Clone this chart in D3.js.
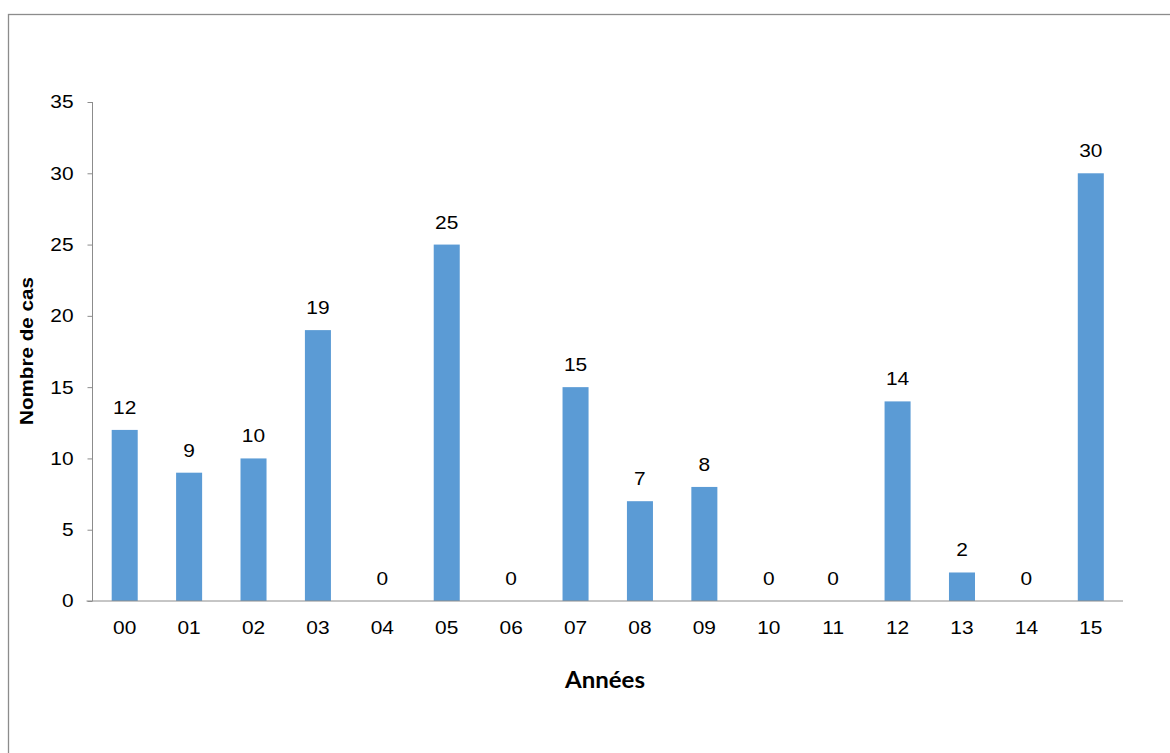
<!DOCTYPE html>
<html><head><meta charset="utf-8">
<script src="https://cdn.jsdelivr.net/npm/d3@7/dist/d3.min.js"></script>
<style>html,body{margin:0;padding:0;background:#fff;}svg{display:block;}
text{font-family:'Liberation Sans', Arial, sans-serif;}
.cal{font-family:Lato, Carlito, Calibri, sans-serif;}
</style>
</head><body>
<svg id="chart" width="1170" height="753"></svg>
<script>
const categories = ["00","01","02","03","04","05","06","07","08","09","10","11","12","13","14","15"];
const values = [12,9,10,19,0,25,0,15,7,8,0,0,14,2,0,30];
const yTicks = [0,5,10,15,20,25,30,35];

const svg = d3.select("#chart");
const m = {left: 92.5, right: 1123, top: 102, bottom: 601};
const FS = 18.5;
const STRETCH = 1.13;

svg.append("rect").attr("x", 8.5).attr("y", 14.5).attr("width", 1180).attr("height", 760)
  .attr("fill", "none").attr("stroke", "#8c8c8c").attr("stroke-width", 1.3);

const x = d3.scaleBand().domain(categories).range([m.left, m.right]).padding(0);
const y = d3.scaleLinear().domain([0, 35]).range([m.bottom, m.top]);
const barW = x.bandwidth() * 0.404;

// y axis
const yAxis = d3.axisLeft(y).tickValues(yTicks).tickSize(5).tickPadding(14);
const yg = svg.append("g").attr("transform", `translate(${m.left},0)`).call(yAxis);
yg.attr("font-family", null).attr("font-size", null);
yg.select(".domain").remove();
yg.append("line").attr("x1", 0).attr("x2", 0).attr("y1", m.top).attr("y2", m.bottom).attr("stroke", "#8c8c8c");
yg.selectAll(".tick line").attr("stroke", "#8c8c8c");
yg.selectAll(".tick text").attr("class", "lbl").style("font-size", FS + "px").attr("fill", "#000");

// bars
svg.append("g").selectAll("rect").data(categories).join("rect")
  .attr("x", (d) => x(d) + x.bandwidth()/2 - barW/2)
  .attr("y", (d, i) => y(values[i]))
  .attr("width", barW)
  .attr("height", (d, i) => y(0) - y(values[i]))
  .attr("fill", "#5b9bd5");

// x axis
const xAxis = d3.axisBottom(x).tickSize(0).tickPadding(20);
const xg = svg.append("g").attr("transform", `translate(0,${m.bottom})`).call(xAxis);
xg.attr("font-family", null).attr("font-size", null);
xg.select(".domain").remove();
xg.append("line").attr("x1", m.left - 6).attr("x2", m.right).attr("y1", 0).attr("y2", 0).attr("stroke", "#8c8c8c");
xg.selectAll(".tick text").attr("class", "lbl").style("font-size", FS + "px").attr("fill", "#000");

// data labels
svg.append("g").selectAll("text").data(categories).join("text")
  .attr("class", "lbl")
  .attr("x", (d) => x(d) + x.bandwidth()/2)
  .attr("y", (d, i) => y(values[i]) - 16)
  .attr("text-anchor", "middle")
  .style("font-size", FS + "px").attr("fill", "#000")
  .text((d, i) => values[i]);

// axis titles
const xt = svg.append("text").attr("class", "cal").attr("x", 605).attr("y", 688)
  .attr("text-anchor", "middle")
  .attr("font-weight", "bold").style("font-size", "22px").attr("fill", "#000").text("Années");
xt.attr("textLength", 80).attr("lengthAdjust", "spacingAndGlyphs");

const yt = svg.append("text").attr("transform", "translate(33,351) rotate(-90)")
  .attr("text-anchor", "middle")
  .attr("font-weight", "bold").style("font-size", "19px").attr("fill", "#000").text("Nombre de cas");
yt.attr("textLength", 148).attr("lengthAdjust", "spacingAndGlyphs");

// horizontal stretch of labels
svg.selectAll("text.lbl").each(function() {
  const L = this.getComputedTextLength();
  d3.select(this).attr("textLength", L * STRETCH).attr("lengthAdjust", "spacingAndGlyphs");
});
</script>
</body></html>
